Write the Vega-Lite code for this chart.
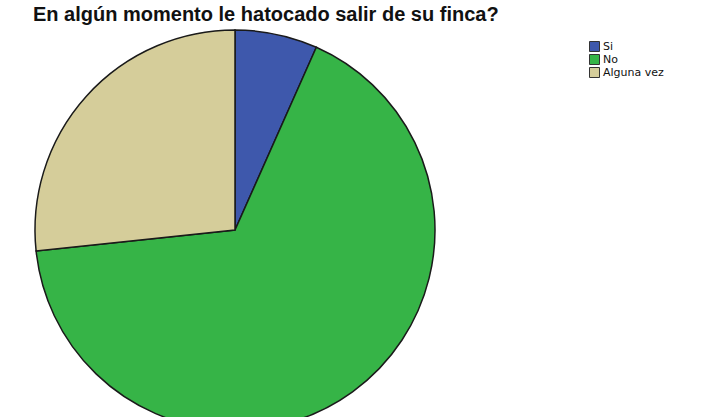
{
  "$schema": "https://vega.github.io/schema/vega-lite/v6.json",
  "width": 470,
  "height": 380,
  "autosize": {"type": "none"},
  "padding": {"left": 0, "top": 40, "right": 254, "bottom": 0},
  "background": "white",
  "title": {
    "text": "En algún momento le hatocado salir de su finca?",
    "font": "Liberation Sans",
    "fontSize": 20,
    "fontWeight": "bold",
    "color": "#111111",
    "anchor": "start",
    "frame": "group",
    "dx": 33,
    "offset": 2
  },
  "data": {
    "values": [
      {"respuesta": "Si", "n": 1, "orden": 1},
      {"respuesta": "No", "n": 10, "orden": 2},
      {"respuesta": "Alguna vez", "n": 4, "orden": 3}
    ]
  },
  "mark": {"type": "arc", "outerRadius": 200, "stroke": "#1a1a1a", "strokeWidth": 1.5},
  "encoding": {
    "theta": {"field": "n", "type": "quantitative", "stack": true},
    "order": {"field": "orden", "type": "quantitative"},
    "color": {
      "field": "respuesta",
      "type": "nominal",
      "scale": {"domain": ["Si", "No", "Alguna vez"], "range": ["#3e58ac", "#36b447", "#d5cd9a"]},
      "legend": {
        "title": null,
        "orient": "right",
        "offset": 119,
        "symbolType": "square",
        "symbolSize": 100,
        "symbolStrokeColor": "#333333",
        "symbolStrokeWidth": 1,
        "symbolOpacity": 1,
        "labelFont": "DejaVu Sans",
        "labelFontSize": 11,
        "labelColor": "#111111",
        "rowPadding": 0,
        "clipHeight": 13,
        "labelOffset": 3,
        "padding": 0
      }
    }
  },
  "config": {"view": {"stroke": null}}
}
